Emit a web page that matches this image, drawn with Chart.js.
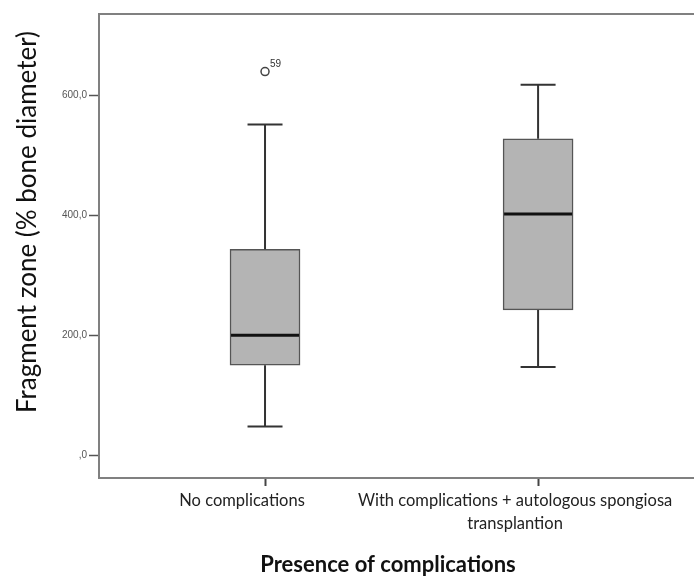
<!DOCTYPE html>
<html>
<head>
<meta charset="utf-8">
<script src="https://cdn.jsdelivr.net/npm/chart.js@4.4.0/dist/chart.umd.min.js"></script>
<style>
html,body{margin:0;padding:0;background:#fff;}
#wrap{width:694px;height:578px;position:relative;}
</style>
</head>
<body>
<div id="wrap"><canvas id="c" width="694" height="578"></canvas></div>
<script>
// ---- data ----
const categories = [["No complications"], ["With complications + autologous spongiosa", "transplantion"]];
const categoryPositions = [1, 2];
const whiskerLow = [48, 147];
const q1 = [150, 242];
const median = [200, 402];
const q3 = [343, 527];
const whiskerHigh = [551, 617];
const outlierValues = [639];
const outlierCategory = [1];
const outlierLabels = ["59"];
const yTickValues = [0, 200, 400, 600];
const yTickLabels = [",0", "200,0", "400,0", "600,0"];
const yTitle = "Fragment zone (% bone diameter)";
const xTitle = "Presence of complications";

const boxPlugin = {
  id: 'boxExtras',
  afterDatasetsDraw(chart) {
    const {ctx, scales: {x, y}, chartArea} = chart;
    ctx.save();
    // top frame line
    ctx.strokeStyle = '#808080';
    ctx.lineWidth = 2;
    ctx.beginPath();
    ctx.moveTo(chartArea.left - 1, chartArea.top);
    ctx.lineTo(chartArea.right, chartArea.top);
    ctx.stroke();
    const half = 35, cap = 17.5;
    categoryPositions.forEach((c, i) => {
      const cx = x.getPixelForValue(c);
      ctx.strokeStyle = '#333';
      ctx.lineWidth = 2;
      ctx.beginPath();
      ctx.moveTo(cx, y.getPixelForValue(q3[i]));
      ctx.lineTo(cx, y.getPixelForValue(whiskerHigh[i]));
      ctx.moveTo(cx, y.getPixelForValue(q1[i]));
      ctx.lineTo(cx, y.getPixelForValue(whiskerLow[i]));
      ctx.moveTo(cx - cap, y.getPixelForValue(whiskerHigh[i]));
      ctx.lineTo(cx + cap, y.getPixelForValue(whiskerHigh[i]));
      ctx.moveTo(cx - cap, y.getPixelForValue(whiskerLow[i]));
      ctx.lineTo(cx + cap, y.getPixelForValue(whiskerLow[i]));
      ctx.stroke();
      ctx.strokeStyle = '#111';
      ctx.lineWidth = 3;
      ctx.beginPath();
      ctx.moveTo(cx - half + 1, y.getPixelForValue(median[i]));
      ctx.lineTo(cx + half - 1, y.getPixelForValue(median[i]));
      ctx.stroke();
    });
    // outlier labels
    ctx.fillStyle = '#333';
    ctx.font = '10px "Liberation Sans", Arial, sans-serif';
    ctx.textAlign = 'left';
    ctx.textBaseline = 'bottom';
    outlierValues.forEach((v, i) => {
      const px = x.getPixelForValue(outlierCategory[i]);
      const py = y.getPixelForValue(v);
      ctx.fillText(outlierLabels[i], px + 5, py - 2);
    });
    // axis titles
    ctx.fillStyle = '#111';
    ctx.textAlign = 'center';
    ctx.textBaseline = 'middle';
    ctx.font = '26px Lato, "Open Sans", sans-serif';
    ctx.save();
    ctx.translate(28, 222);
    ctx.rotate(-Math.PI / 2);
    ctx.fillText(yTitle, 0, 0);
    ctx.restore();
    ctx.font = 'bold 22px Lato, "Open Sans", sans-serif';
    ctx.fillText(xTitle, 388, 565);
    ctx.restore();
  }
};

new Chart(document.getElementById('c'), {
  type: 'bar',
  data: {
    datasets: [
      {
        type: 'bar',
        data: categoryPositions.map((c, i) => ({x: c, y: [q1[i], q3[i]]})),
        backgroundColor: '#b4b4b4',
        borderColor: '#555',
        borderWidth: 1.5,
        borderSkipped: false,
        barThickness: 70,
        order: 2
      },
      {
        type: 'line',
        showLine: false,
        data: outlierValues.map((v, i) => ({x: outlierCategory[i], y: v})),
        pointStyle: 'circle',
        pointRadius: 4,
        pointBackgroundColor: '#fff',
        pointBorderColor: '#444',
        pointBorderWidth: 1.5,
        order: 1
      }
    ]
  },
  options: {
    responsive: false,
    animation: false,
    layout: {autoPadding: false, padding: {top: 14, right: 0, left: 0, bottom: 0}},
    plugins: {legend: {display: false}, tooltip: {enabled: false}},
    scales: {
      x: {
        type: 'linear',
        offset: false,
        min: 0.392,
        max: 2.571,
        afterBuildTicks(s) { s.ticks = categoryPositions.map(v => ({value: v})); },
        afterFit(s) { s.height = 100; s.paddingLeft = 0; s.paddingRight = 0; },
        ticks: {
          callback(v) { const i = categoryPositions.indexOf(v); return i >= 0 ? categories[i] : ''; },
          autoSkip: false,
          maxRotation: 0,
          padding: 3,
          labelOffset: -23,
          color: '#222',
          font: {family: 'Lato, "Open Sans", sans-serif', size: 16.5, lineHeight: 1.4}
        },
        grid: {offset: false, drawOnChartArea: false, tickLength: 8, color: '#444', tickWidth: 2},
        border: {display: true, color: '#808080', width: 2}
      },
      y: {
        min: -38,
        max: 735,
        afterBuildTicks(s) { s.ticks = yTickValues.map(v => ({value: v})); },
        afterFit(s) { s.width = 99; },
        ticks: {
          callback(v) { const i = yTickValues.indexOf(v); return i >= 0 ? yTickLabels[i] : ''; },
          padding: 2,
          color: '#555',
          font: {family: '"Liberation Sans", Arial, sans-serif', size: 10}
        },
        grid: {drawOnChartArea: false, tickLength: 10, color: '#555', tickWidth: 1.5},
        border: {display: true, color: '#808080', width: 2}
      }
    }
  },
  plugins: [boxPlugin]
});
</script>
</body>
</html>
